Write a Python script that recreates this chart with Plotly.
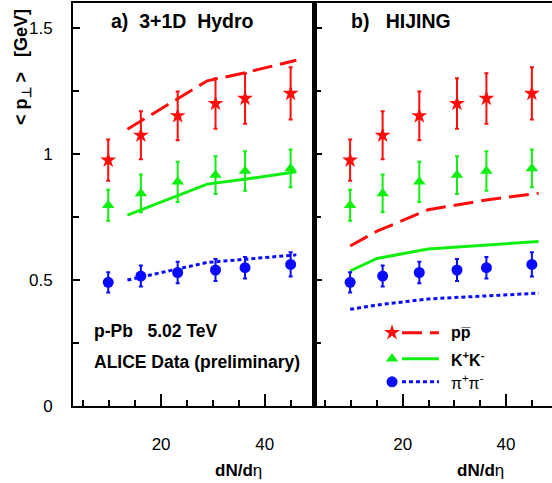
import plotly.graph_objects as go

# ---------------- data ----------------
dndeta = [9.8, 16.1, 23.2, 30.5, 36.2, 45.0]

p_mean = [0.976, 1.075, 1.152, 1.201, 1.221, 1.241]
p_err = [0.082, 0.095, 0.097, 0.100, 0.100, 0.104]
k_mean = [0.797, 0.844, 0.890, 0.917, 0.933, 0.943]
k_err = [0.062, 0.075, 0.080, 0.075, 0.078, 0.075]
pi_mean = [0.491, 0.516, 0.530, 0.540, 0.549, 0.562]
pi_err = [0.040, 0.042, 0.043, 0.044, 0.043, 0.048]

hydro_x = [13.5, 28.9, 36.4, 46.1]
hydro_p = [1.099, 1.291, 1.324, 1.373]
hydro_k = [0.758, 0.881, 0.901, 0.930]
hydro_pi = [0.500, 0.570, 0.583, 0.600]

hijing_x = [9.8, 15.0, 24.9, 36.2, 46.3]
hijing_p = [0.635, 0.694, 0.779, 0.818, 0.845]
hijing_k = [0.536, 0.586, 0.623, 0.640, 0.653]
hijing_pi = [0.384, 0.401, 0.425, 0.437, 0.448]

legend_labels = ["<b>pp\u0305</b>", "<b>K<sup>+</sup>K<sup>-</sup></b>", "\u03c0<sup>+</sup>\u03c0<sup>-</sup>"]

RED = "#ff0d0d"
GREEN = "#11ee11"
BLUE = "#0a0aff"
FONT = "Liberation Sans, Arial, Helvetica, sans-serif"

fig = go.Figure()

species = [
    (p_mean, p_err, "star", 12, RED, hydro_p, hijing_p, "20px,8px"),
    (k_mean, k_err, "triangle-up", 11, GREEN, hydro_k, hijing_k, "solid"),
    (pi_mean, pi_err, "circle", 11, BLUE, hydro_pi, hijing_pi, "4px,3px"),
]

for (mean, err, sym, size, col, hyd, hij, dash) in species:
    for xa, ya, model_x, model_y in (("x", "y", hydro_x, hyd), ("x2", "y2", hijing_x, hij)):
        fig.add_trace(go.Scatter(
            x=model_x, y=model_y, mode="lines", xaxis=xa, yaxis=ya,
            line=dict(color=col, width=3, dash=dash), showlegend=False, hoverinfo="skip"))
        fig.add_trace(go.Scatter(
            x=dndeta, y=mean, mode="markers", xaxis=xa, yaxis=ya,
            marker=dict(symbol=sym, size=size, color=col, line=dict(width=0)),
            error_y=dict(type="data", array=err, color=col, thickness=2, width=2),
            showlegend=False))

# custom legend (overlay axis in unit coordinates of right panel)
leg_rows_y = [0.182, 0.117, 0.060]
for i, (mean, err, sym, size, col, hyd, hij, dash) in enumerate(species):
    fig.add_trace(go.Scatter(x=[0.325], y=[leg_rows_y[i]], mode="markers", xaxis="x3", yaxis="y3",
                             marker=dict(symbol=sym, size=size, color=col, line=dict(width=0)),
                             showlegend=False, hoverinfo="skip"))
    fig.add_trace(go.Scatter(x=[0.367, 0.523], y=[leg_rows_y[i]] * 2, mode="lines", xaxis="x3", yaxis="y3",
                             line=dict(color=col, width=3, dash=dash), showlegend=False, hoverinfo="skip"))

W, H = 552, 483
L, R, T, B = 73, 0, 3, 77
split = (315 - L) / (W - L - R)

axis_common = dict(showline=True, linecolor="black", ticks="inside",
                   tickcolor="black", showgrid=False, zeroline=False,
                   tickfont=dict(family=FONT, size=17, color="black"))

xcommon = dict(axis_common, mirror=True, dtick=20, tick0=0, ticklen=12, tickwidth=1.5, linewidth=2,
               minor=dict(dtick=5, tick0=0, ticklen=6, ticks="inside", tickcolor="black", tickwidth=1.5),
               ticklabelstandoff=22)
ycommon = dict(axis_common, range=[0, 1.6], dtick=0.5, tick0=0, ticklen=7, tickwidth=1.5, linewidth=2,
               minor=dict(dtick=0.25, tick0=0, ticklen=6, ticks="inside", tickcolor="black", tickwidth=1.5))

fig.update_layout(
    width=W, height=H,
    margin=dict(l=L, r=R, t=T, b=B),
    plot_bgcolor="white", paper_bgcolor="white",
    font=dict(family=FONT, color="black"),
    xaxis=dict(xcommon, domain=[0, split], range=[3, 49.7], anchor="y"),
    yaxis=dict(ycommon, domain=[0, 1], anchor="x", mirror=True, ticklabelstandoff=15),
    xaxis2=dict(xcommon, domain=[split, 1], range=[3, 48.9], anchor="y2"),
    yaxis2=dict(ycommon, domain=[0, 1], anchor="x2", mirror=False, showticklabels=False, linewidth=3),
    xaxis3=dict(domain=[split, 1], range=[0, 1], overlaying="x2", visible=False, anchor="y3"),
    yaxis3=dict(domain=[0, 1], range=[0, 1], overlaying="y2", visible=False, anchor="x3"),
    showlegend=False,
)

ann = []
ann.append(dict(text="<b>a)\u00a0\u00a03+1D\u00a0\u00a0Hydro</b>", xref="paper", yref="paper",
                x=(109 - L) / (W - L), y=(406 - 21) / 403, xanchor="left", yanchor="middle",
                showarrow=False, font=dict(size=19.5)))
ann.append(dict(text="<b>b)\u00a0\u00a0\u00a0HIJING</b>", xref="paper", yref="paper",
                x=(349 - L) / (W - L), y=(406 - 21) / 403, xanchor="left", yanchor="middle",
                showarrow=False, font=dict(size=19.5)))
ann.append(dict(text="<b>p-Pb\u00a0\u00a0\u00a05.02 TeV</b>", xref="paper", yref="paper",
                x=(92 - L) / (W - L), y=(406 - 331) / 403, xanchor="left", yanchor="middle",
                showarrow=False, font=dict(size=17.5)))
ann.append(dict(text="<b>ALICE Data (preliminary)</b>", xref="paper", yref="paper",
                x=(92 - L) / (W - L), y=(406 - 362) / 403, xanchor="left", yanchor="middle",
                showarrow=False, font=dict(size=17.5)))
for i, lab in enumerate(legend_labels):
    ann.append(dict(text=lab, xref="x3", yref="y3", x=0.565, y=leg_rows_y[i],
                    xanchor="left", yanchor="middle", showarrow=False, font=dict(size=16)))
for xr in ("x", "x2"):
    ann.append(dict(text="<b>dN/d</b>\u03b7", xref=xr, yref="paper", x=35, y=(406 - 470) / 403,
                    xanchor="center", yanchor="middle", showarrow=False, font=dict(size=17)))
ann.append(dict(text="<b>&lt;\u00a0p<sub>\u22a5</sub>\u00a0&gt;\u00a0\u00a0\u00a0[GeV]</b>",
                xref="paper", yref="paper", x=(22 - L) / (W - L), y=(406 - 67) / 403,
                xanchor="center", yanchor="middle", textangle=-90, showarrow=False,
                font=dict(size=18)))
fig.update_layout(annotations=ann)

fig.write_html("out.html", config={"displayModeBar": False},
               post_script="document.body.style.margin='0';document.body.style.padding='0';")
